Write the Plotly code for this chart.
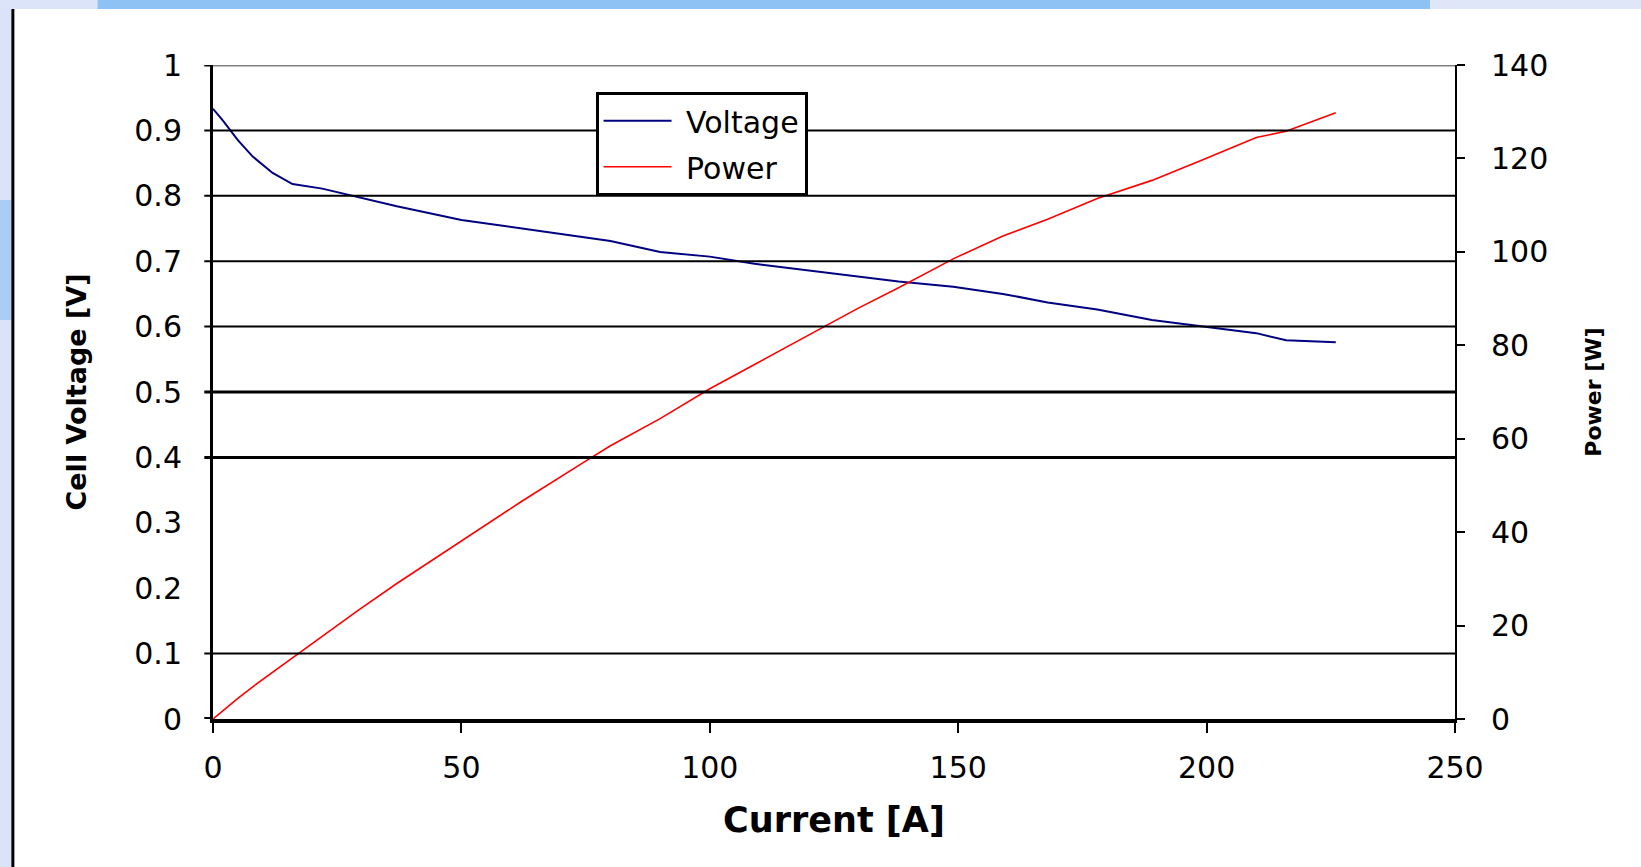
import plotly.graph_objects as go

# ---------------- data ----------------
current_a = [0, 2, 5, 8, 12, 16, 22, 29, 37, 50, 62, 75, 80, 90, 100, 109,
             121, 130, 138, 149, 159, 168, 178, 189, 199, 210, 216, 226]
voltage_v = [0.933, 0.915, 0.885, 0.860, 0.835, 0.818, 0.811, 0.798, 0.784,
             0.763, 0.750, 0.736, 0.731, 0.714, 0.707, 0.696, 0.685, 0.677,
             0.669, 0.661, 0.650, 0.637, 0.626, 0.610, 0.600, 0.590, 0.579,
             0.576]
power_w = [0, 1.8, 4.4, 6.9, 10.0, 13.1, 17.8, 23.1, 29.0, 38.1, 46.5, 55.2,
           58.5, 64.3, 70.7, 75.9, 82.9, 88.0, 92.3, 98.5, 103.4, 107.0,
           111.4, 115.3, 119.6, 124.5, 125.8, 129.8]

voltage_ticks = [0, 0.1, 0.2, 0.3, 0.4, 0.5, 0.6, 0.7, 0.8, 0.9, 1]
voltage_tick_text = ["0", "0.1", "0.2", "0.3", "0.4", "0.5", "0.6", "0.7",
                     "0.8", "0.9", "1"]
power_ticks = [0, 20, 40, 60, 80, 100, 120, 140]
current_ticks = [0, 50, 100, 150, 200, 250]
grid_levels = [0.1, 0.4, 0.5, 0.6, 0.7, 0.8, 0.9]   # visible gridlines
heavy_levels = [0.4, 0.5]

FONT = "DejaVu Sans"

fig = go.Figure()
fig.add_trace(go.Scatter(x=current_a, y=voltage_v, name=" Voltage",
                         mode="lines", line=dict(color="#000080", width=2),
                         legendgroup="v", yaxis="y"))
fig.add_trace(go.Scatter(x=current_a, y=power_w, name=" Power",
                         mode="lines", line=dict(color="#ff0000", width=1.6),
                         legendgroup="p", yaxis="y2"))

shapes = []
# gridlines (with small overhang acting as left tick marks)
for lv in grid_levels:
    shapes.append(dict(type="line", xref="paper", yref="y", x0=-0.007, x1=1,
                       y0=lv, y1=lv,
                       line=dict(color="black",
                                 width=3 if lv in heavy_levels else 2)))
# top border at 1.0 (grey) and its black tick overhang
shapes.append(dict(type="line", xref="paper", yref="y", x0=0, x1=1, y0=1, y1=1,
                   line=dict(color="#808080", width=3)))
shapes.append(dict(type="line", xref="paper", yref="y", x0=-0.007, x1=0,
                   y0=1, y1=1, line=dict(color="black", width=3)))
shapes.append(dict(type="line", xref="paper", yref="y", x0=-0.007, x1=0,
                   y0=0, y1=0, line=dict(color="black", width=4)))
# page decoration from the screenshot (window frame)
W, H = 1241.2, 654.0
L, B = 213.5, 719.0
def px(x): return (x - L) / W
def py(y): return (B - y) / H
deco = [
    (0, 0, 98, 9, "#dbe4f8"),
    (98, 0, 1430, 9, "#8ec2f5"),
    (1430, 0, 1641, 9, "#dfe6f8"),
    (0, 9, 12, 867, "#dbe3f8"),
    (0, 200, 12, 320, "#a9cdf5"),
]
for x0, y0, x1, y1, c in deco:
    shapes.append(dict(type="rect", xref="paper", yref="paper",
                       x0=px(x0), x1=px(x1), y0=py(y1), y1=py(y0),
                       line=dict(width=0), fillcolor=c, layer="below"))
shapes.append(dict(type="line", xref="paper", yref="paper",
                   x0=px(13.5), x1=px(13.5), y0=py(867), y1=py(9),
                   line=dict(color="black", width=3)))

fig.update_layout(
    width=1641, height=867,
    margin=dict(l=213, r=186, t=65, b=148, autoexpand=False),
    paper_bgcolor="white", plot_bgcolor="white",
    font=dict(family=FONT, color="black", size=30),
    showlegend=True,
    legend=dict(x=0.308, y=0.959, xanchor="left", yanchor="top",
                bgcolor="white", bordercolor="black", borderwidth=3,
                font=dict(family=FONT, size=30, color="black"),
                itemwidth=68, tracegroupgap=4),
    xaxis=dict(range=[0, 250], tickvals=current_ticks,
               showgrid=False, zeroline=False, showline=True,
               linecolor="black", linewidth=4,
               ticks="outside", ticklen=10, tickwidth=2, tickcolor="black",
               ticklabelstandoff=9,
               tickfont=dict(family=FONT, size=30),
               title=dict(text="<b>Current [A]</b>", standoff=24,
                          font=dict(family=FONT, size=35))),
    yaxis=dict(range=[0, 1], tickvals=voltage_ticks, ticktext=voltage_tick_text,
               showgrid=False, zeroline=False, showline=True,
               linecolor="black", linewidth=3, ticks="",
               ticklabelstandoff=22,
               tickfont=dict(family=FONT, size=30),
               title=dict(text="<b>Cell Voltage [V]</b>", standoff=40,
                          font=dict(family=FONT, size=27))),
    yaxis2=dict(range=[0, 140], tickvals=power_ticks, overlaying="y",
                side="right", showgrid=False, zeroline=False, showline=True,
                linecolor="black", linewidth=2,
                ticks="outside", ticklen=8, tickwidth=2, tickcolor="black",
                ticklabelstandoff=20,
                tickfont=dict(family=FONT, size=30),
                title=dict(text="<b>Power [W]</b>", standoff=38,
                           font=dict(family=FONT, size=22))),
    shapes=shapes,
)

fig.write_html("out.html", config={"displayModeBar": False},
               post_script="document.body.style.margin='0';"
                           "document.body.style.overflow='hidden';")
